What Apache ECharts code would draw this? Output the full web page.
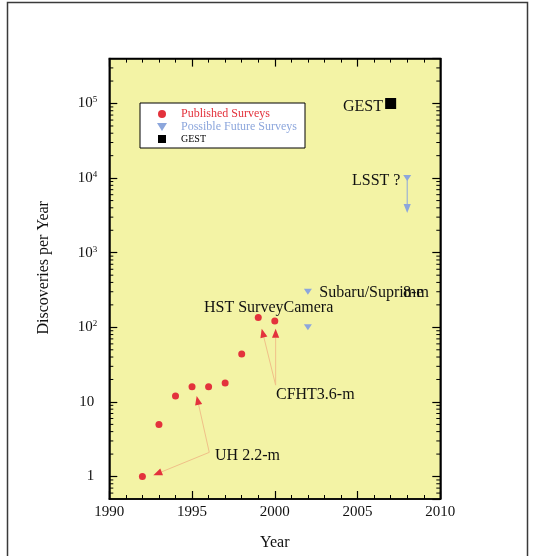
<!DOCTYPE html>
<html>
<head>
<meta charset="utf-8">
<script src="https://cdn.jsdelivr.net/npm/echarts@6/dist/echarts.min.js"></script>
<style>
  html, body { margin: 0; padding: 0; background: #fff; }
  #chart { width: 535px; height: 556px; }
</style>
</head>
<body>
<div id="chart"></div>
<script>
// Published surveys: discoveries per year
const publishedYears = [1992, 1993, 1994, 1995, 1996, 1997, 1998, 1999, 2000];
const publishedCounts = [1, 5, 12, 16, 16, 18, 44, 135, 122];

// Possible future surveys (Subaru/Suprime-Cam pair, LSST)
const futureYears = [2002, 2002, 2008];
const futureCounts = [300, 100, 10000];

// GEST
const gestYears = [2007];
const gestCounts = [100000];

// Axis ranges and tick layout
const yearRange = [1990, 2010];
const yearStep = 5;
const countRange = [0.5, 400000];
const minorMantissas = [2, 3, 4, 5, 6, 7, 8, 9];
const minorDecades = [-1, 0, 1, 2, 3, 4, 5];

// Pointer arrows: [fromYear, fromCount, toYear, toCount]
const telescopeArrows = [
  [1996.04, 2.11, 1992.66, 1.04],
  [1996.04, 2.11, 1995.28, 12.0],
  [2000.05, 16.8, 1999.21, 96],
  [2000.05, 16.8, 2000.05, 96]
];
const lsstArrow = [[2008, 10000, 2008, 3400]];

// Text annotations anchored on their left edge: [year, count, text]
const leftTexts = [
  [1995.72, 180, 'HST SurveyCamera'],
  [2000.07, 12.3, 'CFHT3.6-m'],
  [1996.39, 1.9, 'UH 2.2-m'],
  [2002.69, 290, 'Subaru/Suprime'],
  [2007.75, 290, '8-m']
];
// Text annotations anchored on their right edge
const rightTexts = [
  [2006.54, 90000, 'GEST'],
  [2007.59, 9300, 'LSST ?']
];

const SERIF = '"Liberation Serif", "DejaVu Serif", serif';
const RED = '#e3323c';
const BLUE = '#8ca6dc';
const ARROW_LINE = '#f0c088';
const DOWN_TRIANGLE = 'path://M0,0L10,0L5,8Z';
const SQUARE = 'path://M0,0L10,0L10,10L0,10Z';

const minorValues = [];
minorDecades.forEach(function (d) {
  minorMantissas.forEach(function (m) {
    const v = m * Math.pow(10, d);
    if (v > countRange[0] && v < countRange[1]) minorValues.push(v);
  });
});

function pairs(xs, ys) {
  return xs.map(function (x, i) { return [x, ys[i]]; });
}

function arrowRenderer(lineColor, headColor) {
  return function (params, api) {
    const a = api.coord([api.value(0), api.value(1)]);
    const b = api.coord([api.value(2), api.value(3)]);
    const dx = b[0] - a[0], dy = b[1] - a[1];
    const len = Math.sqrt(dx * dx + dy * dy) || 1;
    const ux = dx / len, uy = dy / len;
    const hl = 9, hw = 3.6;
    const base = [b[0] - ux * hl, b[1] - uy * hl];
    return {
      type: 'group',
      children: [
        { type: 'line', shape: { x1: a[0], y1: a[1], x2: base[0], y2: base[1] },
          style: { stroke: lineColor, lineWidth: 1 } },
        { type: 'polygon',
          shape: { points: [b, [base[0] - uy * hw, base[1] + ux * hw], [base[0] + uy * hw, base[1] - ux * hw]] },
          style: { fill: headColor } }
      ]
    };
  };
}

function textRenderer(list, align) {
  return function (params, api) {
    const p = api.coord([api.value(0), api.value(1)]);
    return {
      type: 'text', x: p[0], y: p[1],
      style: { text: list[params.dataIndex][2], fill: '#111', fontFamily: SERIF, fontSize: 16,
               align: align, verticalAlign: 'middle' }
    };
  };
}

function minorTickRenderer(params, api) {
  const v = api.value(1);
  const l = api.coord([yearRange[0], v]);
  const r = api.coord([yearRange[1], v]);
  return {
    type: 'group',
    children: [
      { type: 'line', shape: { x1: l[0], y1: l[1], x2: l[0] + 4, y2: l[1] }, style: { stroke: '#000', lineWidth: 1 } },
      { type: 'line', shape: { x1: r[0] - 4, y1: r[1], x2: r[0], y2: r[1] }, style: { stroke: '#000', lineWidth: 1 } }
    ]
  };
}

const tickStyle = { color: '#000', width: 1.2 };

function xAxisDef(pos, labels) {
  return {
    type: 'value', position: pos, min: yearRange[0], max: yearRange[1], interval: yearStep,
    axisLine: { show: true, lineStyle: { color: '#000', width: 1.5 } },
    axisTick: { show: true, inside: true, length: 8, lineStyle: tickStyle },
    minorTick: { show: true, splitNumber: 5, length: 4, lineStyle: { color: '#000', width: 1 } },
    splitLine: { show: false },
    axisLabel: {
      show: labels, margin: 6, color: '#111', fontFamily: SERIF, fontSize: 15,
      formatter: function (v) { return String(v); }
    },
    name: labels ? 'Year' : '', nameLocation: 'middle', nameGap: 36,
    nameTextStyle: { color: '#111', fontFamily: SERIF, fontSize: 16 }
  };
}

function yAxisDef(pos, labels) {
  return {
    type: 'log', logBase: 10, position: pos, min: countRange[0], max: countRange[1],
    axisLine: { show: true, lineStyle: { color: '#000', width: 1.5 } },
    axisTick: { show: true, inside: true, length: 8, lineStyle: tickStyle },
    splitLine: { show: false },
    axisLabel: {
      show: labels, margin: 12, showMinLabel: false, showMaxLabel: false,
      color: '#111', fontFamily: SERIF, fontSize: 15,
      formatter: function (v) {
        const e = Math.round(Math.log10(v));
        if (e === 0) return '{p|1}';
        if (e === 1) return '{p|10}';
        return '{b|10}{s|' + e + '}';
      },
      rich: {
        p: { fontFamily: SERIF, fontSize: 15, color: '#111', padding: [0, 3, 0, 0], lineHeight: 16 },
        b: { fontFamily: SERIF, fontSize: 15, color: '#111', lineHeight: 16 },
        s: { fontFamily: SERIF, fontSize: 9, color: '#111', verticalAlign: 'top', lineHeight: 10 }
      }
    },
    name: labels ? 'Discoveries per Year' : '', nameLocation: 'middle', nameGap: 58,
    nameTextStyle: { color: '#111', fontFamily: SERIF, fontSize: 16, padding: [0, 0, 0, 22] }
  };
}

const chart = echarts.init(document.getElementById('chart'), null, { renderer: 'canvas' });

chart.setOption({
  animation: false,
  backgroundColor: '#fff',
  graphic: [{
    type: 'rect', silent: true, z: -10,
    shape: { x: 7.5, y: 2.5, width: 520, height: 640 },
    style: { fill: 'none', stroke: '#3a3a3a', lineWidth: 1.5 }
  }],
  grid: {
    left: 109.3, right: 94.7, top: 58.6, bottom: 49.3,
    show: true, backgroundColor: '#f3f3a5', borderColor: '#000', borderWidth: 1.5
  },
  legend: {
    orient: 'vertical', left: 140, top: 103,
    padding: [5, 8, 4, 17], itemGap: 1, itemWidth: 28, itemHeight: 8,
    backgroundColor: '#fff', borderColor: '#000', borderWidth: 1,
    textStyle: { fontFamily: SERIF, fontSize: 12 },
    data: [
      { name: 'Published Surveys', icon: 'circle', textStyle: { color: RED } },
      { name: 'Possible Future Surveys', icon: DOWN_TRIANGLE, textStyle: { color: BLUE } },
      { name: 'GEST', icon: SQUARE, textStyle: { color: '#000', fontSize: 10 } }
    ]
  },
  xAxis: [xAxisDef('bottom', true), xAxisDef('top', false)],
  yAxis: [yAxisDef('left', true), yAxisDef('right', false)],
  series: [
    {
      name: 'minor ticks', type: 'custom', silent: true, z: 5,
      data: minorValues.map(function (v) { return [yearRange[0], v]; }),
      renderItem: minorTickRenderer
    },
    {
      name: 'telescope arrows', type: 'custom', silent: true, z: 3,
      encode: { x: [0, 2], y: [1, 3] },
      data: telescopeArrows,
      renderItem: arrowRenderer(ARROW_LINE, RED)
    },
    {
      name: 'lsst arrow', type: 'custom', silent: true, z: 3,
      encode: { x: [0, 2], y: [1, 3] },
      data: lsstArrow,
      renderItem: arrowRenderer(BLUE, BLUE)
    },
    {
      name: 'Published Surveys', type: 'scatter', symbol: 'circle', symbolSize: 7,
      itemStyle: { color: RED, opacity: 1 }, z: 4,
      data: pairs(publishedYears, publishedCounts)
    },
    {
      name: 'Possible Future Surveys', type: 'scatter', symbol: DOWN_TRIANGLE, symbolSize: [8, 6],
      itemStyle: { color: BLUE, opacity: 1 }, z: 4,
      data: pairs(futureYears, futureCounts)
    },
    {
      name: 'GEST', type: 'scatter', symbol: 'rect', symbolSize: 11,
      itemStyle: { color: '#000', opacity: 1 }, z: 4,
      data: pairs(gestYears, gestCounts)
    },
    {
      name: 'left texts', type: 'custom', silent: true, z: 6,
      data: leftTexts.map(function (d) { return [d[0], d[1]]; }),
      renderItem: textRenderer(leftTexts, 'left')
    },
    {
      name: 'right texts', type: 'custom', silent: true, z: 6,
      data: rightTexts.map(function (d) { return [d[0], d[1]]; }),
      renderItem: textRenderer(rightTexts, 'right')
    }
  ]
});
</script>
</body>
</html>
